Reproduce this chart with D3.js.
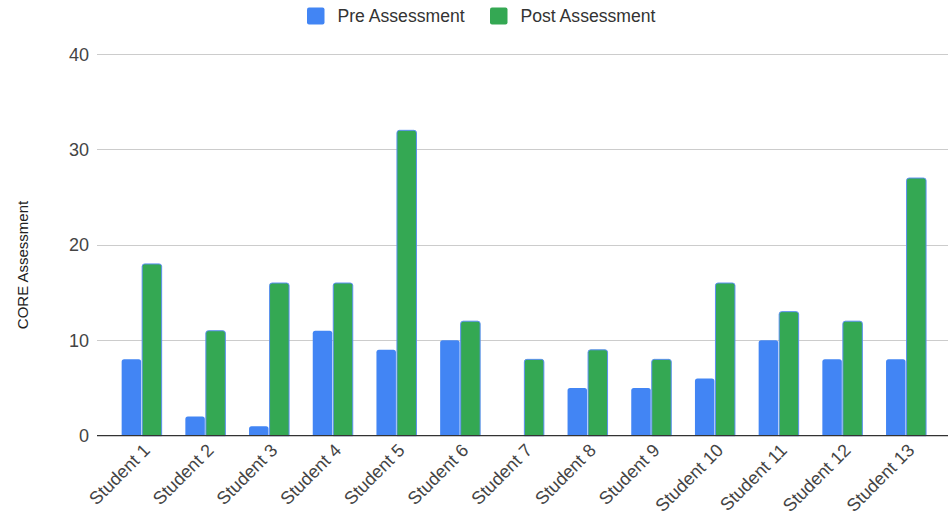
<!DOCTYPE html>
<html><head><meta charset="utf-8">
<script src="https://cdn.jsdelivr.net/npm/d3@7"></script>
<style>html,body{margin:0;padding:0;background:#fff;}svg{display:block;font-family:"Liberation Sans",Arial,sans-serif;}</style>
</head><body>
<svg id="chart" width="948" height="515"></svg>
<script>
const categories = ["Student 1","Student 2","Student 3","Student 4","Student 5","Student 6","Student 7","Student 8","Student 9","Student 10","Student 11","Student 12","Student 13"];
const seriesNames = ["Pre Assessment","Post Assessment"];
const preValues = [8,2,1,11,9,10,0,5,5,6,10,8,8];
const postValues = [18,11,16,16,32,12,8,9,8,16,13,12,27];
const yTicks = [0,10,20,30,40];
const colors = ["#4285f4","#34a853"];
const yTitle = "CORE Assessment";

const svg = d3.select("#chart");
const gridLeft = 97, gridRight = 948;
const y = d3.scaleLinear().domain([0,40]).range([435.7,54]);
const x0 = d3.scaleBand().domain(categories).range([109.8,937.9]).padding(0);
const groupW = 40;
const x1 = d3.scaleBand().domain(seriesNames)
  .range([(x0.bandwidth()-groupW)/2,(x0.bandwidth()+groupW)/2]).paddingInner(0.05);

// gridlines
svg.append("g").selectAll("line").data(yTicks.filter(t=>t>0)).join("line")
  .attr("x1",gridLeft).attr("x2",gridRight)
  .attr("y1",d=>Math.round(y(d))+0.5).attr("y2",d=>Math.round(y(d))+0.5)
  .attr("stroke","#cccccc").attr("stroke-width",1);

// y tick labels
const yAxis = d3.axisLeft(y).tickValues(yTicks).tickSize(0).tickPadding(0);
const ya = svg.append("g").attr("transform","translate(89,0)").call(yAxis);
ya.select(".domain").remove();
ya.selectAll("text").attr("font-size","18px").attr("fill","#444").attr("font-family","'Liberation Sans',Arial,sans-serif").attr("dy","0.34em");

// bars
function topRounded(x,yTop,w,h,r){
  if(h<=0) return "";
  r=Math.min(r,h,w/2);
  return `M${x},${yTop+h}V${yTop+r}Q${x},${yTop} ${x+r},${yTop}H${x+w-r}Q${x+w},${yTop} ${x+w},${yTop+r}V${yTop+h}Z`;
}
const rows = categories.map((c,i)=>({cat:c, vals:[preValues[i],postValues[i]]}));
const g = svg.append("g");
rows.forEach(row=>{
  row.vals.forEach((v,si)=>{
    const bx = x0(row.cat)+x1(seriesNames[si]);
    const bw = x1.bandwidth();
    const yt = y(v), h = y(0)-y(v);
    if(h>0){
      g.append("path").attr("d",topRounded(bx,yt,bw,h,2.5))
        .attr("fill",colors[si])
        .attr("stroke", si===1 ? "#5b8ff0" : "none").attr("stroke-width",1);
    }
  });
});

// baseline
svg.append("line").attr("x1",gridLeft).attr("x2",gridRight)
  .attr("y1",y(0)).attr("y2",y(0)).attr("stroke","#333").attr("stroke-width",1.3);

// x labels
const xAxis = d3.axisBottom(x0).tickSize(0).tickPadding(0);
const xa = svg.append("g").call(xAxis);
xa.select(".domain").remove();
xa.selectAll(".tick").attr("transform",d=>`translate(${x0(d)+x0.bandwidth()/2+5},447)`);
xa.selectAll(".tick text").attr("font-size","18px").attr("fill","#444")
  .attr("font-family","'Liberation Sans',Arial,sans-serif")
  .attr("text-anchor","end").attr("x",0).attr("y",0).attr("dy","0.35em")
  .attr("transform","rotate(-45)");

// y title
svg.append("text").attr("transform","translate(28,265) rotate(-90)")
  .attr("text-anchor","middle").attr("font-size","15px").attr("fill","#222").text(yTitle);

// legend
const legend = svg.append("g");
const legX = [307,490];
seriesNames.forEach((s,i)=>{
  legend.append("rect").attr("x",legX[i]).attr("y",7.5).attr("width",17.5).attr("height",17)
    .attr("rx",2).attr("fill",colors[i]);
  legend.append("text").attr("x",legX[i]+30.5).attr("y",16).attr("dy","0.35em")
    .attr("font-size","17.6px").attr("fill","#333").text(s);
});
</script>
</body></html>
